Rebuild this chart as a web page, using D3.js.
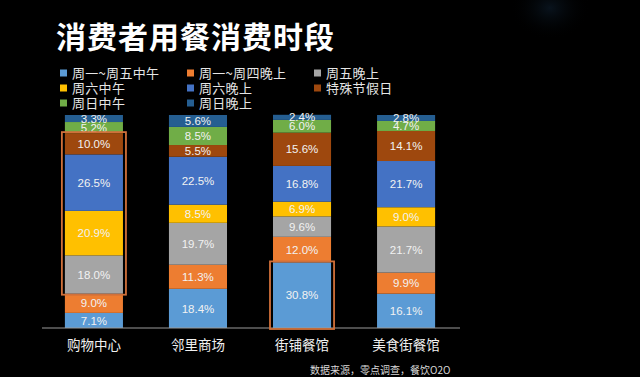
<!DOCTYPE html>
<html>
<head>
<meta charset="utf-8">
<script src="https://cdn.jsdelivr.net/npm/d3@7"></script>
<style>
    html, body { margin: 0; padding: 0; background: #000; }
    svg { display: block; }
</style>
</head>
<body>
<div id="draw_here"></div>
<script type="text/javascript">
    // Data
    categories = ["购物中心", "邻里商场", "街铺餐馆", "美食街餐馆"]
    seriesNames = ["周一~周五中午", "周一~周四晚上", "周五晚上", "周六中午", "周六晚上", "特殊节假日", "周日中午", "周日晚上"]
    seriesColors = ["#5b9bd5", "#ed7d31", "#a5a5a5", "#ffc000", "#4472c4", "#9e480e", "#70ad47", "#255e91"]
    // one array per series, values per category (percent)
    monFriLunch = [7.1, 18.4, 30.8, 16.1]
    monThuDinner = [9.0, 11.3, 12.0, 9.9]
    friDinner = [18.0, 19.7, 9.6, 21.7]
    satLunch = [20.9, 8.5, 6.9, 9.0]
    satDinner = [26.5, 22.5, 16.8, 21.7]
    holiday = [10.0, 5.5, 15.6, 14.1]
    sunLunch = [5.2, 8.5, 6.0, 4.7]
    sunDinner = [3.3, 5.6, 2.4, 2.8]
    seriesValues = [monFriLunch, monThuDinner, friDinner, satLunch, satDinner, holiday, sunLunch, sunDinner]

    // highlighted blocks: [category, first series, last series]
    highlights = [["购物中心", 2, 5], ["街铺餐馆", 0, 0]]

    title = "消费者用餐消费时段"
    source = "数据来源，零点调查，餐饮O2O"

    canvas = ({width: 640, height: 377})
    cjk = "'Noto Sans CJK SC', 'Noto Sans', sans-serif"
    num = "'Liberation Sans', Arial, 'Noto Sans CJK SC', sans-serif"

    var svg = d3.select("div#draw_here").append("svg")
        .attr("width", canvas.width)
        .attr("height", canvas.height)
        .attr("viewBox", [0, 0, canvas.width, canvas.height])

    svg.append("rect")
        .attr("width", canvas.width)
        .attr("height", canvas.height)
        .attr("fill", "#000")

    // faint glow in the top right corner
    var defs = svg.append("defs")
    var glow = defs.append("radialGradient").attr("id", "glow")
    glow.append("stop").attr("offset", "0%").attr("stop-color", "#12263a").attr("stop-opacity", 0.5)
    glow.append("stop").attr("offset", "100%").attr("stop-color", "#000").attr("stop-opacity", 0)
    svg.append("ellipse")
        .attr("cx", 550).attr("cy", 8)
        .attr("rx", 40).attr("ry", 32)
        .attr("fill", "url(#glow)")

    // Title
    svg.append("text")
        .attr("x", 56)
        .attr("y", 48)
        .attr("fill", "#fff")
        .attr("font-family", cjk)
        .attr("font-weight", "bold")
        .attr("font-size", 30)
        .attr("letter-spacing", 1)
        .text(title)

    // Legend
    legend = svg.append("g")
    seriesNames.forEach(function(name, i) {
        var col = i % 3, row = Math.floor(i / 3)
        var gx = 60 + col * 127, gy = 73 + row * 15
        legend.append("rect")
            .attr("x", gx).attr("y", gy - 3.5)
            .attr("width", 7).attr("height", 7)
            .attr("fill", seriesColors[i])
        legend.append("text")
            .attr("x", gx + 12).attr("y", gy)
            .attr("dy", "0.36em")
            .attr("fill", "#e6e6e6")
            .attr("font-family", cjk)
            .attr("font-size", 13)
            .attr("letter-spacing", 0.3)
            .text(name)
    })

    // Scales
    x = d3.scaleBand()
        .domain(categories)
        .range([42, 458])
        .paddingInner(0.442)
        .paddingOuter(0.22)

    y = d3.scaleLinear()
        .domain([0, 100])
        .range([328, 115])

    stacked = categories.map(function(c, ci) {
        var acc = 0
        return seriesValues.map(function(vals, si) {
            var d = {cat: c, series: si, y0: acc, y1: acc + vals[ci], v: vals[ci]}
            acc += vals[ci]
            return d
        })
    })
    segs = stacked.flat()

    svg.append("g").selectAll("rect")
        .data(segs)
        .join("rect")
        .attr("x", d => x(d.cat))
        .attr("width", x.bandwidth())
        .attr("y", d => y(d.y1))
        .attr("height", d => y(d.y0) - y(d.y1))
        .attr("fill", d => seriesColors[d.series])

    svg.append("g").selectAll("text")
        .data(segs)
        .join("text")
        .attr("x", d => x(d.cat) + x.bandwidth() / 2)
        .attr("y", d => y((d.y0 + d.y1) / 2))
        .attr("dy", "0.36em")
        .attr("text-anchor", "middle")
        .attr("fill", "#f2f2f2")
        .attr("font-family", num)
        .attr("font-size", 11.5)
        .text(d => d.v.toFixed(1) + "%")

    // Axis baseline
    svg.append("line")
        .attr("x1", 42).attr("x2", 460)
        .attr("y1", y(0)).attr("y2", y(0))
        .attr("stroke", "#9a9a9a")
        .attr("stroke-width", 1)

    // Category labels
    svg.append("g").selectAll("text")
        .data(categories)
        .join("text")
        .attr("x", d => x(d) + x.bandwidth() / 2)
        .attr("y", 345)
        .attr("dy", "0.36em")
        .attr("text-anchor", "middle")
        .attr("fill", "#f0f0f0")
        .attr("font-family", cjk)
        .attr("font-size", 13.5)
        .text(d => d)

    // Highlight boxes
    svg.append("g").selectAll("rect")
        .data(highlights)
        .join("rect")
        .attr("x", d => x(d[0]) - 3)
        .attr("width", x.bandwidth() + 6)
        .attr("y", function(d) {
            var ci = categories.indexOf(d[0])
            return y(stacked[ci][d[2]].y1) - 1
        })
        .attr("height", function(d) {
            var ci = categories.indexOf(d[0])
            return y(stacked[ci][d[1]].y0) - y(stacked[ci][d[2]].y1) + 2
        })
        .attr("fill", "none")
        .attr("stroke", "#d0703a")
        .attr("stroke-width", 1.8)

    // Source note
    svg.append("text")
        .attr("x", 310)
        .attr("y", 370)
        .attr("dy", "0.36em")
        .attr("fill", "#d8d8d8")
        .attr("font-family", cjk)
        .attr("font-size", 10)
        .text(source)
</script>
</body>
</html>
